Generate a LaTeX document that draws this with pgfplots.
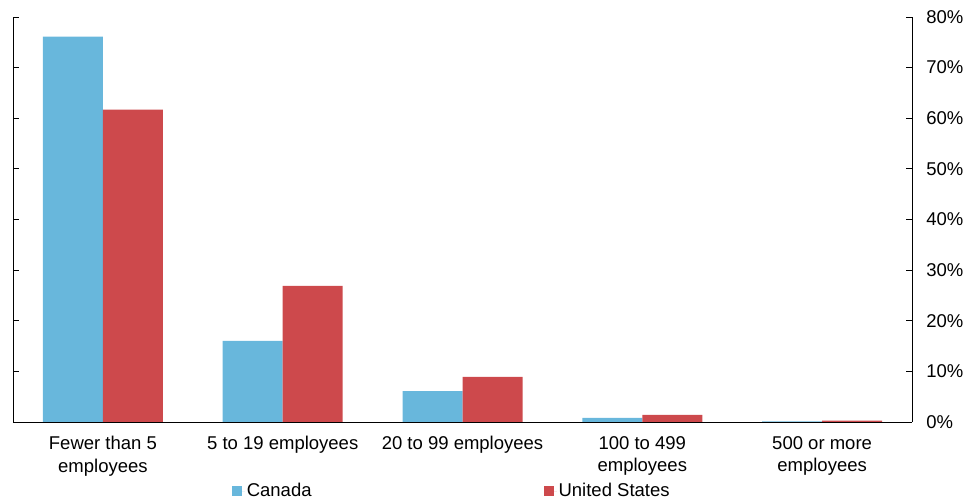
\documentclass[border=0pt]{standalone}
\usepackage{pgfplots}
\pgfplotsset{compat=1.18}
\usepackage{fontspec}
\setmainfont{Liberation Sans}
\definecolor{cablue}{RGB}{104,183,220}
\definecolor{usred}{RGB}{205,73,76}
\begin{document}
\begin{tikzpicture}
\fontsize{18.5}{22.5}\selectfont
\begin{axis}[
  scale only axis,
  width=899pt, height=405pt,
  xmin=-0.5, xmax=4.5, ymin=0, ymax=80,
  ybar=0pt, bar width=60pt,
  axis x line*=bottom, axis y line*=left,
  xtick={0,1,2,3,4},
  xticklabels={{Fewer than 5\\employees},{5 to 19 employees},{20 to 99 employees},{100 to 499\\employees},{500 or more\\employees}},
  xticklabel style={align=center, font=\fontsize{18.5}{22.5}\selectfont, yshift=-8pt},
  major x tick style={draw=none},
  extra x ticks={0.5,1.5,2.5,3.5},
  extra x tick labels={},
  extra x tick style={major tick length=7pt, tick style={draw=black, line width=0.8pt}},
  ytick={0,10,...,80},
  yticklabels={},
  tick align=inside,
  major tick length=6pt,
  axis line style={line width=0.8pt},
  tick style={line width=0.8pt, black},
  legend style={draw=none, at={(0.488,-0.17)}, anchor=center, legend columns=2, font=\fontsize{18.5}{22.5}\selectfont, /tikz/every even column/.append style={column sep=230pt}},
  legend image code/.code={\path (0pt,0pt) rectangle (13pt,0pt);\fill[#1] (0pt,-5pt) rectangle (10pt,5pt);},
  clip=false,
]
\coordinate (o) at (rel axis cs:0,0);
\addplot[fill=cablue, draw=none] coordinates {(0,76.1) (1,16.0) (2,6.1) (3,0.8) (4,0.1)};
\addplot[fill=usred, draw=none] coordinates {(0,61.7) (1,26.9) (2,8.9) (3,1.4) (4,0.25)};
\legend{Canada, United States}
\end{axis}
\begin{axis}[
  scale only axis,
  width=899pt, height=405pt,
  xmin=-0.5, xmax=4.5, ymin=0, ymax=80,
  axis x line=none, axis y line*=right,
  ytick={0,10,...,80},
  yticklabel={\pgfmathprintnumber{\tick}\%},
  yticklabel style={font=\fontsize{18.5}{22.5}\selectfont, xshift=8pt},
  /pgf/number format/assume math mode=true,
  tick align=inside,
  major tick length=6pt,
  axis line style={line width=0.8pt},
  tick style={line width=0.8pt, black},
]
\addplot[draw=none] coordinates {(0,0)};
\end{axis}
\pgfresetboundingbox
\path (o) ++(-13pt,-80pt) rectangle ++(968pt,502pt);
\end{tikzpicture}
\end{document}
